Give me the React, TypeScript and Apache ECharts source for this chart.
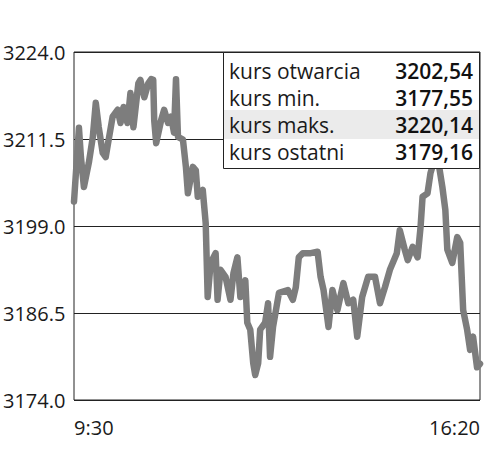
import React, { useEffect, useRef } from "react";
import * as echarts from "echarts";

// minutes since 9:30
const minutes = [0,5,7,10,15,19,22,25,29,32,35,39,44,47,50,54,57,60,65,67,71,75,78,80,81,83,88,91,95,98,101,103,105,110,113,115,120,123,125,130,133,135,138,143,145,148,153,158,161,165,168,173,175,178,181,183,186,188,193,196,198,201,207,216,221,224,227,231,239,246,249,252,257,261,266,272,277,282,286,291,297,304,309,314,319,326,329,334,337,342,347,350,352,357,360,364,368,372,375,377,382,387,390,393,397,400,403,407,410];
const prices = [3202.5,3213.1,3208.9,3204.6,3208.1,3211.8,3216.7,3213.2,3209.5,3208.9,3211.4,3214.7,3215.7,3213.8,3216.1,3213.8,3218.1,3213.2,3219.5,3220.0,3217.5,3219.5,3220.1,3220.0,3214.2,3210.9,3214.2,3215.7,3213.8,3214.7,3212.4,3220.1,3211.8,3211.4,3207.5,3203.7,3207.5,3207.0,3203.2,3204.2,3199.4,3188.8,3193.7,3195.1,3188.4,3192.7,3191.7,3188.4,3192.2,3194.5,3188.8,3191.2,3185.1,3184.1,3179.3,3177.6,3179.3,3184.1,3185.1,3187.9,3180.2,3184.5,3189.4,3189.8,3188.4,3190.2,3194.5,3195.1,3195.1,3195.3,3191.7,3189.8,3184.5,3189.8,3186.9,3190.8,3187.9,3188.4,3183.1,3188.8,3191.7,3191.7,3187.9,3190.2,3192.7,3195.1,3198.4,3195.6,3194.1,3196.0,3194.5,3198.9,3203.2,3203.7,3206.6,3208.5,3208.2,3204.6,3201.3,3195.6,3193.7,3197.4,3196.6,3186.9,3184.1,3181.2,3183.1,3178.7,3179.2];

const xTickLabels = ["9:30", "16:20"];
const tableLabels = ["kurs otwarcia", "kurs min.", "kurs maks.", "kurs ostatni"];
const tableValues = ["3202,54", "3177,55", "3220,14", "3179,16"];

const FONT = "Open Sans";

export default function App() {
  const ref = useRef<HTMLDivElement>(null);
  useEffect(() => {
    const chart = echarts.init(ref.current!, undefined, { renderer: "svg" });
    const data = minutes.map((m, i) => [m, prices[i]]);
    const rowY = [71, 98, 125, 152];
    const graphics: any[] = [
      { type: "rect", shape: { x: 223.5, y: 52.5, width: 256, height: 116 }, style: { fill: "#fff", stroke: "#222", lineWidth: 1 }, z: 10 },
      { type: "rect", shape: { x: 224, y: 110, width: 255, height: 29 }, style: { fill: "#ebebeb" }, z: 11 },
    ];
    tableLabels.forEach((t, i) => {
      graphics.push({ type: "text", x: 229, y: rowY[i], style: { text: t, fontFamily: FONT, fontSize: 21, fill: "#1a1a1a", textVerticalAlign: "middle", textAlign: "left" }, z: 12 });
      graphics.push({ type: "text", x: 473, y: rowY[i], style: { text: tableValues[i], fontFamily: FONT, fontSize: 21, fontWeight: 600, fill: "#111", textVerticalAlign: "middle", textAlign: "right" }, z: 12 });
    });
    chart.setOption({
      animation: false,
      grid: { left: 73, right: 20, top: 52, bottom: 55, show: true, borderColor: "#222", borderWidth: 1, backgroundColor: "transparent" },
      xAxis: {
        type: "value", min: 0, max: 410, interval: 410,
        axisLine: { show: false }, axisTick: { show: false }, splitLine: { show: false },
        axisLabel: {
          fontFamily: FONT, fontSize: 20, color: "#1a1a1a", margin: 17,
          alignMinLabel: "left", alignMaxLabel: "right",
          formatter: (v: number) => (v === 0 ? xTickLabels[0] : xTickLabels[1]),
        },
      },
      yAxis: {
        type: "value", min: 3174, max: 3224, interval: 12.5,
        axisLine: { show: false }, axisTick: { show: false },
        splitLine: { show: true, lineStyle: { color: "#222", width: 1 } },
        axisLabel: { fontFamily: FONT, fontSize: 20, color: "#1a1a1a", margin: 71, align: "left", formatter: (v: number) => v.toFixed(1) },
      },
      series: [{
        type: "line", data, showSymbol: false, symbol: "none",
        lineStyle: { color: "#7d7d7d", width: 6.5, join: "round", cap: "round" }, z: 3,
      }],
      graphic: graphics,
    });
    return () => chart.dispose();
  }, []);
  return <div ref={ref} style={{ position: "absolute", left: 0, top: 0, width: 500, height: 455 }} />;
}
